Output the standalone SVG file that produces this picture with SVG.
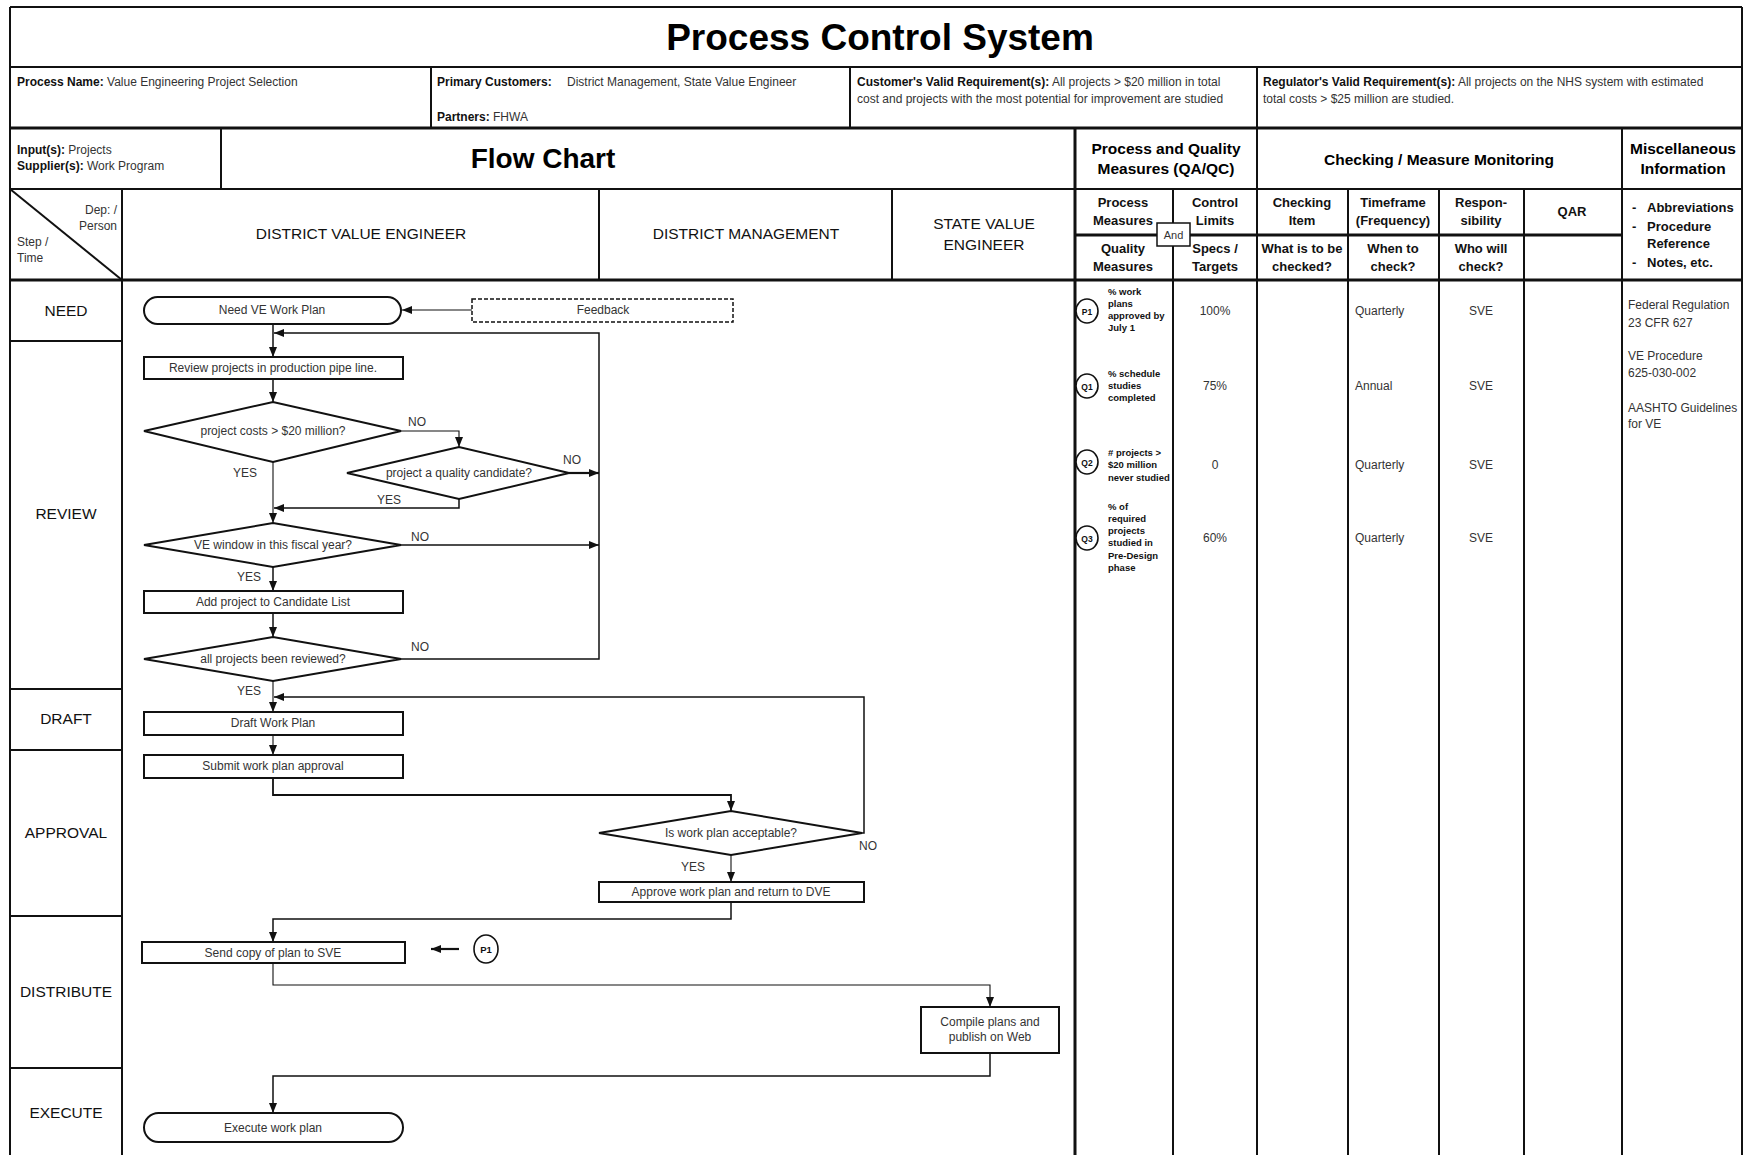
<svg xmlns="http://www.w3.org/2000/svg" width="1744" height="1155" viewBox="0 0 1744 1155">
<style>
text{font-family:"Liberation Sans",Arial,sans-serif;fill:#222}
.t{font-size:12px;fill:#333}
.b{font-weight:bold;fill:#111}
.c{text-anchor:middle}
.h{font-size:15.5px;font-weight:bold;fill:#000}
.sh{font-size:13px;font-weight:bold;fill:#111;text-anchor:middle}
.lane{font-size:15.5px;fill:#111;text-anchor:middle}
.step{font-size:15.5px;fill:#111;text-anchor:middle}
.q{font-size:9.5px;font-weight:bold;fill:#111}
.grid line{stroke:#111;stroke-width:2}
.thick{stroke-width:3 !important}
.shape{fill:#fff;stroke:#111;stroke-width:2}
.conn path{fill:none;stroke:#111;stroke-width:1.5}
.lbl{font-size:12px;fill:#333}
.circ{fill:#fff;stroke:#111;stroke-width:1.6}
</style>
<defs>
<marker id="ah" viewBox="0 0 10 8" refX="10" refY="4" markerWidth="10" markerHeight="8" markerUnits="userSpaceOnUse" orient="auto"><path d="M0,0 L10,4 L0,8 z" fill="#111"/></marker>
</defs>
<rect width="1744" height="1155" fill="#fff"/>
<g class="grid" id="table">
<line x1="10" y1="7" x2="1742" y2="7"/>
<line x1="10" y1="7" x2="10" y2="1155"/>
<line x1="1742" y1="7" x2="1742" y2="1155"/>
<line x1="10" y1="67" x2="1742" y2="67"/>
<line x1="10" y1="128" x2="1742" y2="128" class="thick"/>
<line x1="10" y1="189" x2="1742" y2="189"/>
<line x1="1075" y1="235" x2="1622" y2="235" class="thick"/>
<line x1="10" y1="280" x2="1742" y2="280" class="thick"/>
<line x1="431" y1="67" x2="431" y2="128"/>
<line x1="850" y1="67" x2="850" y2="128"/>
<line x1="1257" y1="67" x2="1257" y2="1155"/>
<line x1="221" y1="128" x2="221" y2="189"/>
<line x1="1075" y1="128" x2="1075" y2="1155" class="thick"/>
<line x1="1622" y1="128" x2="1622" y2="1155"/>
<line x1="122" y1="189" x2="122" y2="1155"/>
<line x1="599" y1="189" x2="599" y2="280"/>
<line x1="892" y1="189" x2="892" y2="280"/>
<line x1="1173" y1="189" x2="1173" y2="1155"/>
<line x1="1348" y1="189" x2="1348" y2="1155"/>
<line x1="1439" y1="189" x2="1439" y2="1155"/>
<line x1="1524" y1="189" x2="1524" y2="1155"/>
<line x1="10" y1="189" x2="122" y2="280"/>
<line x1="10" y1="341" x2="122" y2="341"/>
<line x1="10" y1="689" x2="122" y2="689"/>
<line x1="10" y1="750" x2="122" y2="750"/>
<line x1="10" y1="916" x2="122" y2="916"/>
<line x1="10" y1="1068" x2="122" y2="1068"/>
</g>
<g id="header-text">
<text x="880" y="50" class="c" style="font-size:37px;font-weight:bold;fill:#000">Process Control System</text>
<text x="17" y="86" class="t"><tspan class="b">Process Name:</tspan> Value Engineering Project Selection</text>
<text x="437" y="86" class="t"><tspan class="b">Primary Customers:</tspan><tspan x="567">District Management, State Value Engineer</tspan></text>
<text x="437" y="121" class="t"><tspan class="b">Partners:</tspan> FHWA</text>
<text x="857" y="86" class="t"><tspan class="b">Customer's Valid Requirement(s):</tspan> All projects &gt; $20 million in total</text>
<text x="857" y="103" class="t">cost and projects with the most potential for  improvement are studied</text>
<text x="1263" y="86" class="t"><tspan class="b">Regulator's Valid Requirement(s):</tspan> All projects on the NHS system with estimated</text>
<text x="1263" y="103" class="t">total costs  &gt; $25 million are studied.</text>
<text x="17" y="154" class="t"><tspan class="b">Input(s):</tspan> Projects</text>
<text x="17" y="170" class="t"><tspan class="b">Supplier(s):</tspan> Work Program</text>
<text x="543" y="168" class="c" style="font-size:28px;font-weight:bold;fill:#000">Flow Chart</text>
<text x="1166" y="154" class="h c">Process and Quality</text>
<text x="1166" y="174" class="h c">Measures (QA/QC)</text>
<text x="1439" y="165" class="h c">Checking / Measure Monitoring</text>
<text x="1683" y="154" class="h c">Miscellaneous</text>
<text x="1683" y="174" class="h c">Information</text>
<text x="117" y="214" class="t" text-anchor="end">Dep: /</text>
<text x="117" y="230" class="t" text-anchor="end">Person</text>
<text x="17" y="246" class="t">Step /</text>
<text x="17" y="262" class="t">Time</text>
<text x="361" y="239" class="lane">DISTRICT VALUE ENGINEER</text>
<text x="746" y="239" class="lane">DISTRICT MANAGEMENT</text>
<text x="984" y="229" class="lane">STATE VALUE</text>
<text x="984" y="250" class="lane">ENGINEER</text>
<text x="1123" y="207" class="sh">Process</text>
<text x="1123" y="225" class="sh">Measures</text>
<text x="1123" y="253" class="sh">Quality</text>
<text x="1123" y="271" class="sh">Measures</text>
<text x="1215" y="207" class="sh">Control</text>
<text x="1215" y="225" class="sh">Limits</text>
<text x="1215" y="253" class="sh">Specs /</text>
<text x="1215" y="271" class="sh">Targets</text>
<text x="1302" y="207" class="sh">Checking</text>
<text x="1302" y="225" class="sh">Item</text>
<text x="1302" y="253" class="sh">What is to be</text>
<text x="1302" y="271" class="sh">checked?</text>
<text x="1393" y="207" class="sh">Timeframe</text>
<text x="1393" y="225" class="sh">(Frequency)</text>
<text x="1393" y="253" class="sh">When to</text>
<text x="1393" y="271" class="sh">check?</text>
<text x="1481" y="207" class="sh">Respon-</text>
<text x="1481" y="225" class="sh">sibility</text>
<text x="1481" y="253" class="sh">Who will</text>
<text x="1481" y="271" class="sh">check?</text>
<text x="1572" y="216" class="sh">QAR</text>
<text x="1632" y="212" style="font-size:13px;font-weight:bold;fill:#111">-</text>
<text x="1647" y="212" style="font-size:13px;font-weight:bold;fill:#111">Abbreviations</text>
<text x="1632" y="231" style="font-size:13px;font-weight:bold;fill:#111">-</text>
<text x="1647" y="231" style="font-size:13px;font-weight:bold;fill:#111">Procedure</text>
<text x="1647" y="248" style="font-size:13px;font-weight:bold;fill:#111">Reference</text>
<text x="1632" y="267" style="font-size:13px;font-weight:bold;fill:#111">-</text>
<text x="1647" y="267" style="font-size:13px;font-weight:bold;fill:#111">Notes, etc.</text>
</g>
<g id="and-box">
<rect x="1157" y="223" width="33" height="23" fill="#fff" stroke="#111" stroke-width="1.5"/>
<text x="1173.5" y="239" class="c" style="font-size:11px;fill:#333">And</text>
</g>
<g id="steps">
<text x="66" y="316" class="step">NEED</text>
<text x="66" y="519" class="step">REVIEW</text>
<text x="66" y="724" class="step">DRAFT</text>
<text x="66" y="838" class="step">APPROVAL</text>
<text x="66" y="997" class="step">DISTRIBUTE</text>
<text x="66" y="1118" class="step">EXECUTE</text>
</g>
<g class="conn" id="connectors">
<path d="M472,310 H402" marker-end="url(#ah)" style="stroke-width:1.1"/>
<path d="M273,324 V357" marker-end="url(#ah)"/>
<path d="M401,659 H599 V333 H274" marker-end="url(#ah)"/>
<path d="M273,379 V402" marker-end="url(#ah)"/>
<path d="M401,431 H459 V447" marker-end="url(#ah)" style="stroke-width:1.1"/>
<path d="M569,473 H599" marker-end="url(#ah)" style="stroke-width:2.2"/>
<path d="M459,499 V508 H274" marker-end="url(#ah)"/>
<path d="M273,462 V523" marker-end="url(#ah)" style="stroke-width:1.1"/>
<path d="M401,545 H599" marker-end="url(#ah)"/>
<path d="M273,567 V591" marker-end="url(#ah)"/>
<path d="M273,613 V637" marker-end="url(#ah)"/>
<path d="M273,681 V712" marker-end="url(#ah)" style="stroke-width:1.1"/>
<path d="M862,833 H864 V697 H274" marker-end="url(#ah)"/>
<path d="M273,735 V755" marker-end="url(#ah)" style="stroke-width:1.1"/>
<path d="M273,778 V795 H731 V811" marker-end="url(#ah)" style="stroke-width:1.8"/>
<path d="M731,855 V882" marker-end="url(#ah)" style="stroke-width:1.1"/>
<path d="M731,902 V919 H273 V942" marker-end="url(#ah)"/>
<path d="M459,949 H431" marker-end="url(#ah)" style="stroke-width:2.2"/>
<path d="M273,963 V985 H990 V1007" marker-end="url(#ah)" style="stroke-width:1.1"/>
<path d="M990,1053 V1076 H273 V1113" marker-end="url(#ah)"/>
</g>
<g id="conn-labels">
<text x="408" y="426" class="lbl">NO</text>
<text x="245" y="477" class="lbl c">YES</text>
<text x="563" y="464" class="lbl">NO</text>
<text x="389" y="504" class="lbl c">YES</text>
<text x="411" y="541" class="lbl">NO</text>
<text x="249" y="581" class="lbl c">YES</text>
<text x="411" y="651" class="lbl">NO</text>
<text x="249" y="695" class="lbl c">YES</text>
<text x="859" y="850" class="lbl">NO</text>
<text x="693" y="871" class="lbl c">YES</text>
</g>
<g id="n-need"><rect x="144" y="297" width="257" height="27" rx="13.5" class="shape"/><text x="272" y="314" class="t c">Need VE Work Plan</text></g>
<g id="n-feedback"><rect x="472" y="299" width="261" height="23" fill="#fff" stroke="#111" stroke-width="1.5" stroke-dasharray="4,2"/><text x="603" y="314" class="t c">Feedback</text></g>
<g id="n-review"><rect x="144" y="357" width="259" height="22" class="shape"/><text x="273" y="372" class="t c">Review projects in production pipe line.</text></g>
<g id="n-cost"><polygon points="144,431 273,402 401,431 273,462" class="shape"/><text x="273" y="435" class="t c">project costs &gt; $20 million?</text></g>
<g id="n-quality"><polygon points="347,473 459,447 569,473 459,499" class="shape"/><text x="459" y="477" class="t c">project a quality candidate?</text></g>
<g id="n-window"><polygon points="144,545 273,523 401,545 273,567" class="shape"/><text x="273" y="549" class="t c">VE window in this fiscal year?</text></g>
<g id="n-add"><rect x="144" y="591" width="259" height="22" class="shape"/><text x="273" y="606" class="t c">Add project to Candidate List</text></g>
<g id="n-all"><polygon points="144,659 273,637 401,659 273,681" class="shape"/><text x="273" y="663" class="t c">all projects been reviewed?</text></g>
<g id="n-draft"><rect x="144" y="712" width="259" height="23" class="shape"/><text x="273" y="727" class="t c">Draft Work Plan</text></g>
<g id="n-submit"><rect x="144" y="755" width="259" height="23" class="shape"/><text x="273" y="770" class="t c">Submit work plan approval</text></g>
<g id="n-accept"><polygon points="599,833 731,811 862,833 731,855" class="shape"/><text x="731" y="837" class="t c">Is work plan acceptable?</text></g>
<g id="n-approve"><rect x="599" y="882" width="265" height="20" class="shape"/><text x="731" y="896" class="t c">Approve work plan and return to DVE</text></g>
<g id="n-send"><rect x="142" y="942" width="263" height="21" class="shape"/><text x="273" y="957" class="t c">Send copy of plan to SVE</text></g>
<g id="n-p1ref"><ellipse cx="486" cy="949" rx="12" ry="14" class="circ"/><text x="486" y="953" class="q c">P1</text></g>
<g id="n-compile"><rect x="921" y="1007" width="138" height="46" class="shape"/><text x="990" y="1026" class="t c">Compile plans and</text><text x="990" y="1041" class="t c">publish on Web</text></g>
<g id="n-execute"><rect x="144" y="1113" width="259" height="29" rx="14.5" class="shape"/><text x="273" y="1132" class="t c">Execute work plan</text></g>
<g id="measures">
<g id="m-p1"><ellipse cx="1087" cy="311" rx="11" ry="12" class="circ"/><text x="1087" y="314.5" class="q c" style="font-size:8.5px">P1</text>
<text x="1108" y="295" class="q">% work</text><text x="1108" y="307" class="q">plans</text><text x="1108" y="319" class="q">approved by</text><text x="1108" y="331" class="q">July 1</text>
<text x="1215" y="315" class="t c">100%</text><text x="1355" y="315" class="t">Quarterly</text><text x="1481" y="315" class="t c">SVE</text></g>
<g id="m-q1"><ellipse cx="1087" cy="386" rx="11" ry="12" class="circ"/><text x="1087" y="389.5" class="q c" style="font-size:8.5px">Q1</text>
<text x="1108" y="377" class="q">% schedule</text><text x="1108" y="389" class="q">studies</text><text x="1108" y="401" class="q">completed</text>
<text x="1215" y="390" class="t c">75%</text><text x="1355" y="390" class="t">Annual</text><text x="1481" y="390" class="t c">SVE</text></g>
<g id="m-q2"><ellipse cx="1087" cy="462" rx="11" ry="12" class="circ"/><text x="1087" y="465.5" class="q c" style="font-size:8.5px">Q2</text>
<text x="1108" y="456" class="q"># projects &gt;</text><text x="1108" y="468" class="q">$20 million</text><text x="1108" y="481" class="q">never studied</text>
<text x="1215" y="469" class="t c">0</text><text x="1355" y="469" class="t">Quarterly</text><text x="1481" y="469" class="t c">SVE</text></g>
<g id="m-q3"><ellipse cx="1087" cy="538" rx="11" ry="12" class="circ"/><text x="1087" y="541.5" class="q c" style="font-size:8.5px">Q3</text>
<text x="1108" y="510" class="q">% of</text><text x="1108" y="522" class="q">required</text><text x="1108" y="534" class="q">projects</text><text x="1108" y="546" class="q">studied in</text><text x="1108" y="559" class="q">Pre-Design</text><text x="1108" y="571" class="q">phase</text>
<text x="1215" y="542" class="t c">60%</text><text x="1355" y="542" class="t">Quarterly</text><text x="1481" y="542" class="t c">SVE</text></g>
</g>
<g id="misc">
<text x="1628" y="309" class="t">Federal Regulation</text>
<text x="1628" y="327" class="t">23 CFR 627</text>
<text x="1628" y="360" class="t">VE Procedure</text>
<text x="1628" y="377" class="t">625-030-002</text>
<text x="1628" y="412" class="t">AASHTO Guidelines</text>
<text x="1628" y="428" class="t">for VE</text>
</g>
</svg>
